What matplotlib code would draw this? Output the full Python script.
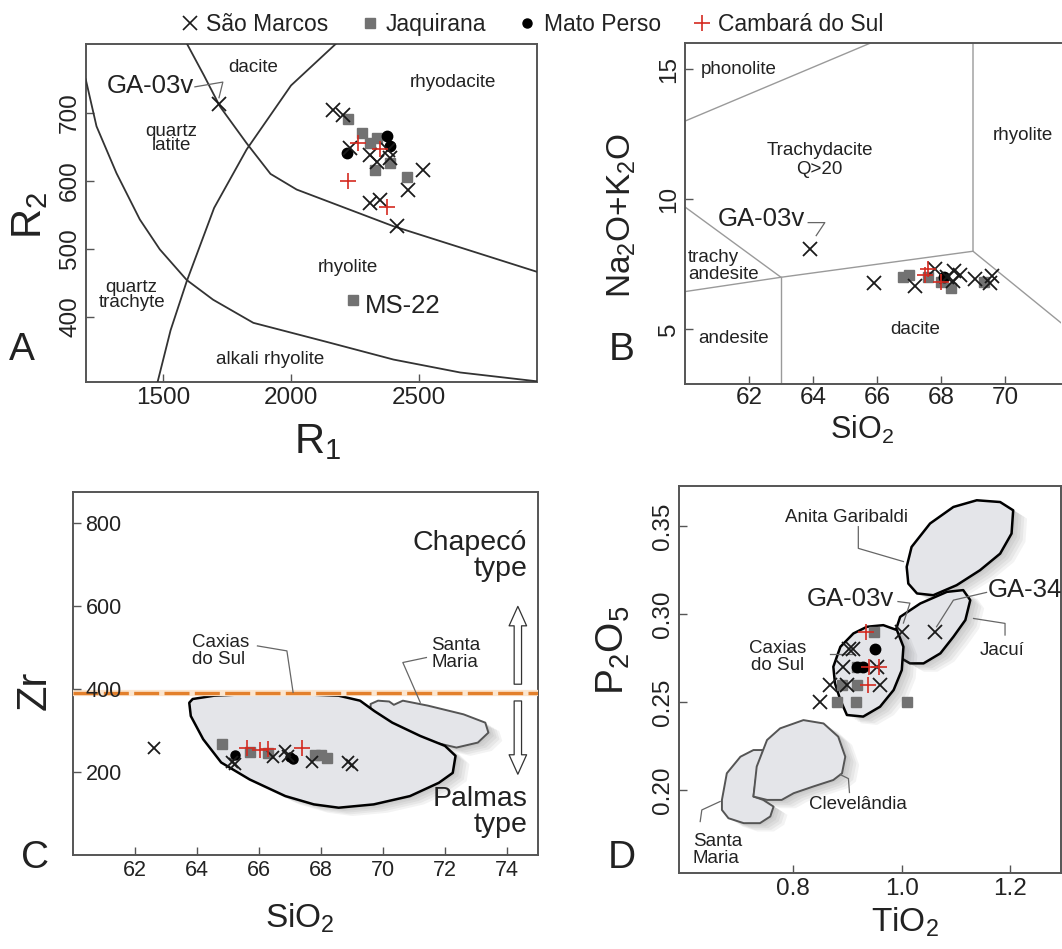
import matplotlib
matplotlib.use("Agg")
import matplotlib.pyplot as plt
import matplotlib.patheffects as pe
from matplotlib.lines import Line2D
from matplotlib.patches import Polygon

plt.rcParams["font.family"] = ["Liberation Sans", "DejaVu Sans"]
plt.rcParams["mathtext.default"] = "regular"

# ---------------- panel A: R1-R2 ----------------
sm_a_r1 = [2164, 2203, 2231, 2309, 2335, 2387, 2380, 2516, 2457, 2309, 2348, 2413, 1720]
sm_a_r2 = [704, 697, 648, 638, 628, 634, 645, 616, 587, 567, 572, 533, 713]
ja_a_r1 = [2224, 2276, 2335, 2309, 2328, 2387, 2452, 2241]
ja_a_r2 = [690, 670, 663, 656, 616, 626, 605, 424]
mp_a_r1 = [2217, 2374, 2387]
mp_a_r2 = [641, 665, 651]
cs_a_r1 = [2263, 2224, 2348, 2374]
cs_a_r2 = [656, 599, 646, 562]

a_line1 = ([1199, 1241, 1319, 1410, 1488, 1593, 1696, 1853, 2139, 2400, 2660, 2960],
           [749, 680, 611, 543, 499, 454, 425, 391, 363, 337, 318, 305])
a_line2 = ([1480, 1530, 1593, 1700, 1827, 2000, 2180],
           [305, 380, 452, 560, 646, 740, 803])
a_line3 = ([1593, 1660, 1723, 1827, 1920, 2022, 2400, 2960],
           [802, 755, 709, 655, 610, 587, 533, 466])

# ---------------- panel B: TAS ----------------
sm_b_si = [65.9, 67.2, 67.8, 68.4, 68.6, 69.06, 69.53, 69.6, 68.38, 68.2, 63.9]
sm_b_alk = [6.79, 6.67, 7.3, 7.24, 7.1, 6.93, 6.79, 7.05, 6.86, 7.0, 8.08]
ja_b_si = [66.8, 67.0, 67.6, 68.3, 68.0, 69.35]
ja_b_alk = [7.0, 7.1, 7.0, 6.6, 6.8, 6.8]
mp_b_si = [68.1]
mp_b_alk = [7.0]
cs_b_si = [67.5, 68.0, 67.6]
cs_b_alk = [7.1, 6.8, 7.3]

b_lines = [
    ([60, 65.8], [13.0, 16]),
    ([60, 63], [9.7, 7.0]),
    ([60, 63, 69], [6.45, 7.0, 8.0]),
    ([63, 63], [2.9, 7.0]),
    ([69, 69, 77], [16, 8, 0]),
]

# ---------------- panel C: Zr vs SiO2 ----------------
sm_c_si = [62.6, 65.12, 65.23, 66.46, 66.84, 66.95, 67.7, 68.88, 69.0]
sm_c_zr = [257, 224, 220, 236, 250, 238, 224, 224, 218]
ja_c_si = [64.8, 65.7, 66.3, 67.8, 68.0, 68.18]
ja_c_zr = [268, 248, 246, 242, 242, 235]
mp_c_si = [65.23, 67.0, 67.1]
mp_c_zr = [241, 236, 232]
cs_c_si = [65.62, 66.03, 66.3, 67.38]
cs_c_zr = [258, 254, 256, 258]

c_caxias = ([63.86, 64.55, 65.7, 66.85, 68.57, 69.26, 69.72, 70.3, 71.2, 72.0, 72.34, 72.25, 71.8,
             70.87, 69.7, 68.57, 67.77, 66.85, 65.7, 64.78, 64.2, 63.8, 63.75],
            [376, 384, 388, 389, 384, 372, 347, 319, 287, 263, 239, 198, 174,
             142, 122, 114, 122, 142, 182, 223, 279, 335, 367])
c_santa = ([69.6, 69.84, 70.2, 70.35, 70.64, 71.45, 72.6, 73.3, 73.4, 73.06, 72.37, 71.68, 70.87, 70.07, 69.6],
           [364, 372, 370, 362, 372, 360, 339, 319, 295, 271, 259, 271, 291, 315, 339])

# ---------------- panel D: P2O5 vs TiO2 ----------------
sm_d_ti = [0.902, 0.911, 0.891, 0.868, 0.899, 0.960, 0.850, 0.954, 1.000, 1.061]
sm_d_p = [0.28, 0.28, 0.27, 0.26, 0.26, 0.26, 0.25, 0.27, 0.29, 0.29]
ja_d_ti = [0.948, 0.917, 0.890, 0.917, 0.880, 0.915, 1.009]
ja_d_p = [0.29, 0.27, 0.26, 0.26, 0.25, 0.25, 0.25]
mp_d_ti = [0.951, 0.918, 0.928]
mp_d_p = [0.28, 0.27, 0.27]
cs_d_ti = [0.934, 0.940, 0.958, 0.937]
cs_d_p = [0.29, 0.27, 0.27, 0.26]

d_anita = ([1.009, 1.018, 1.052, 1.095, 1.138, 1.181, 1.205, 1.202, 1.181, 1.144, 1.101, 1.058, 1.028, 1.012],
           [0.3268, 0.3381, 0.3514, 0.3608, 0.3646, 0.3636, 0.3589, 0.3457, 0.3343, 0.3249, 0.3164, 0.3107, 0.3117, 0.3173])
d_jacui = ([0.985, 0.997, 1.034, 1.083, 1.113, 1.126, 1.117, 1.095, 1.071, 1.040, 1.015, 0.994],
           [0.2871, 0.2984, 0.3060, 0.3126, 0.3136, 0.3079, 0.2966, 0.2871, 0.2777, 0.2720, 0.2720, 0.2758])
d_caxias = ([0.874, 0.887, 0.911, 0.936, 0.966, 0.991, 1.003, 1.000, 0.985, 0.960, 0.929, 0.899, 0.887, 0.877],
            [0.2701, 0.2814, 0.2890, 0.2928, 0.2937, 0.2909, 0.2814, 0.2682, 0.2569, 0.2474, 0.2418, 0.2427, 0.2512, 0.2607])
d_cleve = ([0.727, 0.733, 0.752, 0.776, 0.819, 0.856, 0.883, 0.896, 0.890, 0.874, 0.837, 0.801, 0.779, 0.752],
           [0.1964, 0.2134, 0.2285, 0.2351, 0.2398, 0.2379, 0.2304, 0.2190, 0.2096, 0.2058, 0.2021, 0.1983, 0.1945, 0.1945])
d_santa = ([0.669, 0.678, 0.703, 0.727, 0.745, 0.733, 0.727, 0.745, 0.764, 0.758, 0.739, 0.709, 0.681, 0.669],
           [0.1945, 0.2096, 0.2190, 0.2228, 0.2228, 0.2096, 0.1964, 0.1945, 0.1907, 0.1851, 0.1813, 0.1813, 0.1841, 0.1888])

TXT = "#222222"
SPINE = "#555555"
GRAY_SQ = "#727272"
RED = "#d42a20"
RFS = 13.5   # region names
SFS = 18.5   # sample names


def fig_box(l, t, r, b):
    return [l / 1062, 1 - b / 949, (r - l) / 1062, (b - t) / 949]


def style_axes(ax, fs=17.5):
    for s in ax.spines.values():
        s.set_color(SPINE)
        s.set_linewidth(1.4)
    ax.tick_params(direction="in", length=6, width=1.0, color=SPINE, labelsize=fs, labelcolor=TXT)


def rotate_ylabels(ax):
    for lab in ax.get_yticklabels():
        lab.set_rotation(90)
        lab.set_va("center")


def scatter_groups(ax, sm, ja, mp, cs, xs=10, sq=7.5):
    ax.plot(ja[0], ja[1], ls="", marker="s", ms=sq, color=GRAY_SQ, mec=GRAY_SQ, zorder=5)
    ax.plot(mp[0], mp[1], ls="", marker="o", ms=sq, color="black", zorder=6)
    ax.plot(sm[0], sm[1], ls="", marker="x", ms=xs, mew=1.3, color="#1a1a1a", zorder=7)
    ax.plot(cs[0], cs[1], ls="", marker="+", ms=xs + 2, mew=1.2, color=RED, zorder=8)


def leader(ax, xs, ys):
    ax.plot(xs, ys, color="#666666", lw=0.9, zorder=4)


def field(ax, pts, ec="black", lw=1.8):
    shadows = [pe.SimplePatchShadow(offset=(o, -o * 0.6), shadow_rgbFace="#555555", alpha=0.07)
               for o in (2, 4, 6, 8, 10)]
    poly = Polygon(list(zip(pts[0], pts[1])), closed=True, fc="#e4e5e9", ec=ec, lw=lw, joinstyle="round",
                   zorder=2, path_effects=shadows + [pe.Normal()])
    ax.add_patch(poly)


fig = plt.figure(figsize=(10.62, 9.49), dpi=100)

# ---------- A ----------
axA = fig.add_axes(fig_box(86, 44, 537, 382))
style_axes(axA)
for ln in (a_line1, a_line2, a_line3):
    axA.plot(ln[0], ln[1], color="#333333", lw=1.3, zorder=3)
scatter_groups(axA, (sm_a_r1, sm_a_r2), (ja_a_r1, ja_a_r2), (mp_a_r1, mp_a_r2), (cs_a_r1, cs_a_r2))
axA.set_xlim(1200, 2960)
axA.set_ylim(304, 801)
axA.set_xticks([1500, 2000, 2500])
axA.set_yticks([400, 500, 600, 700])
rotate_ylabels(axA)
axA.text(1852, 766, "dacite", fontsize=RFS, ha="center", va="center", color=TXT)
axA.text(2633, 744, "rhyodacite", fontsize=RFS, ha="center", va="center", color=TXT)
axA.text(1534, 662, "quartz\nlatite", fontsize=RFS, ha="center", va="center", color=TXT, linespacing=0.8)
axA.text(1378, 432, "quartz\ntrachyte", fontsize=RFS, ha="center", va="center", color=TXT, linespacing=0.8)
axA.text(2223, 473, "rhyolite", fontsize=RFS, ha="center", va="center", color=TXT)
axA.text(1918, 337, "alkali rhyolite", fontsize=RFS, ha="center", va="center", color=TXT)
axA.text(2290, 416, "MS-22", fontsize=SFS, ha="left", va="center", color=TXT)
axA.text(1450, 739, "GA-03v", fontsize=SFS, ha="center", va="center", color=TXT)
leader(axA, [1625, 1734, 1719], [738, 745, 722])

# ---------- B ----------
axB = fig.add_axes(fig_box(685, 43, 1061, 384))
style_axes(axB)
axB.tick_params(axis="x", pad=2)
axB.spines["right"].set_visible(False)
for xs, ys in b_lines:
    axB.plot(xs, ys, color="#9a9a9a", lw=1.0, zorder=2)
scatter_groups(axB, (sm_b_si, sm_b_alk), (ja_b_si, ja_b_alk), (mp_b_si, mp_b_alk), (cs_b_si, cs_b_alk))
axB.set_xlim(60, 71.75)
axB.set_ylim(2.9, 16)
axB.set_xticks([62, 64, 66, 68, 70])
axB.set_yticks([5, 10, 15])
rotate_ylabels(axB)
axB.text(60.5, 15.0, "phonolite", fontsize=RFS, ha="left", va="center", color=TXT)
axB.text(64.2, 11.5, "Trachydacite\nQ>20", fontsize=RFS, ha="center", va="center", color=TXT, linespacing=1.1)
axB.text(70.56, 12.43, "rhyolite", fontsize=RFS, ha="center", va="center", color=TXT)
axB.text(60.1, 7.45, "trachy\nandesite", fontsize=RFS, ha="left", va="center", color=TXT, linespacing=1.0)
axB.text(60.4, 4.65, "andesite", fontsize=RFS, ha="left", va="center", color=TXT)
axB.text(67.2, 5.0, "dacite", fontsize=RFS, ha="center", va="center", color=TXT)
axB.text(62.4, 9.25, "GA-03v", fontsize=SFS, ha="center", va="center", color=TXT)
leader(axB, [63.85, 64.37, 64.1], [9.1, 9.1, 8.6])

# ---------- C ----------
axC = fig.add_axes(fig_box(73, 492, 538, 855))
style_axes(axC, fs=15.5)
field(axC, c_santa, ec="#555555", lw=1.4)
field(axC, c_caxias, ec="black", lw=1.8)
axC.axhline(390, color="#fbe6d0", lw=4.5, zorder=3)
axC.axhline(390, color="#e3802c", lw=2.4, dashes=(7.5, 1.6), zorder=3)
scatter_groups(axC, (sm_c_si, sm_c_zr), (ja_c_si, ja_c_zr), (mp_c_si, mp_c_zr), (cs_c_si, cs_c_zr), xs=9, sq=6.5)
axC.set_xlim(60, 75)
axC.set_ylim(0, 875)
axC.set_xticks([62, 64, 66, 68, 70, 72, 74])
axC.set_yticks([200, 400, 600, 800])
axC.yaxis.set_zorder(4)
axC.tick_params(axis="y", pad=-9)
for lab in axC.get_yticklabels():
    lab.set_ha("left")
arrow_style = "simple,head_length=1.0,head_width=0.9,tail_width=0.38"
axC.annotate("", xy=(74.35, 606), xytext=(74.35, 405),
             arrowprops=dict(arrowstyle=arrow_style, mutation_scale=14, fc="white", ec="#333333", lw=0.9),
             zorder=6)
axC.annotate("", xy=(74.35, 188), xytext=(74.35, 378),
             arrowprops=dict(arrowstyle=arrow_style, mutation_scale=14, fc="white", ec="#333333", lw=0.9),
             zorder=6)
axC.text(74.65, 720, "Chapecó\ntype", fontsize=20.5, ha="right", va="center", color=TXT, linespacing=1.0)
axC.text(74.65, 103, "Palmas\ntype", fontsize=20.5, ha="right", va="center", color=TXT, linespacing=1.0)
axC.text(63.84, 492, "Caxias\ndo Sul", fontsize=RFS, ha="left", va="center", color=TXT, linespacing=1.0)
leader(axC, [65.95, 66.9, 67.1], [504, 492, 392])
axC.text(71.56, 484, "Santa\nMaria", fontsize=RFS, ha="left", va="center", color=TXT, linespacing=1.0)
leader(axC, [71.4, 70.64, 71.2], [476, 464, 368])

# ---------- D ----------
axD = fig.add_axes(fig_box(679, 486, 1061, 873))
style_axes(axD)
field(axD, d_santa, ec="#555555", lw=1.4)
field(axD, d_cleve, ec="#555555", lw=1.4)
field(axD, d_anita)
field(axD, d_jacui)
field(axD, d_caxias)
scatter_groups(axD, (sm_d_ti, sm_d_p), (ja_d_ti, ja_d_p), (mp_d_ti, mp_d_p), (cs_d_ti, cs_d_p))
axD.set_xlim(0.59, 1.293)
axD.set_ylim(0.153, 0.3727)
axD.set_xticks([0.8, 1.0, 1.2])
axD.set_xticklabels(["0.8", "1.0", "1.2"])
axD.set_yticks([0.20, 0.25, 0.30, 0.35])
axD.set_yticklabels(["0.20", "0.25", "0.30", "0.35"])
rotate_ylabels(axD)
axD.text(0.899, 0.3551, "Anita Garibaldi", fontsize=RFS, ha="center", va="center", color=TXT)
leader(axD, [0.920, 0.920, 1.003], [0.3496, 0.3373, 0.3298])
axD.text(0.905, 0.3088, "GA-03v", fontsize=SFS, ha="center", va="center", color=TXT)
leader(axD, [0.993, 1.015, 1.003], [0.3071, 0.3062, 0.2949])
axD.text(1.226, 0.3135, "GA-34", fontsize=SFS, ha="center", va="center", color=TXT)
leader(axD, [1.156, 1.095, 1.064], [0.3123, 0.3079, 0.2928])
axD.text(1.184, 0.2795, "Jacuí", fontsize=RFS, ha="center", va="center", color=TXT)
leader(axD, [1.132, 1.190, 1.190], [0.2975, 0.2947, 0.2881])
axD.text(0.771, 0.2757, "Caxias\ndo Sul", fontsize=RFS, ha="center", va="center", color=TXT, linespacing=1.0)
leader(axD, [0.867, 0.911], [0.2776, 0.2776])
axD.text(0.920, 0.1917, "Clevelândia", fontsize=RFS, ha="center", va="center", color=TXT)
leader(axD, [0.8865, 0.9018, 0.9037], [0.2089, 0.2066, 0.1987])
axD.text(0.6155, 0.1662, "Santa\nMaria", fontsize=RFS, ha="left", va="center", color=TXT, linespacing=1.0)
leader(axD, [0.6657, 0.6320, 0.6290], [0.1936, 0.1888, 0.1822])

# ---------- axis titles and panel letters ----------
def ftext(x, y, s, **kw):
    fig.text(x / 1062, 1 - y / 949, s, ha="center", va="center", color=TXT, **kw)

ftext(30, 215, "R$_2$", fontsize=30, rotation=90)
ftext(318, 442, "R$_1$", fontsize=30)
ftext(622, 215, "Na$_2$O+K$_2$O", fontsize=24, rotation=90)
ftext(862, 430, "SiO$_2$", fontsize=22)
ftext(35, 690, "Zr", fontsize=30, rotation=90)
ftext(300, 918, "SiO$_2$", fontsize=24)
ftext(613, 650, "P$_2$O$_5$", fontsize=28, rotation=90)
ftext(905, 922, "TiO$_2$", fontsize=24)
ftext(22, 350, "A", fontsize=28)
ftext(622, 350, "B", fontsize=28)
ftext(35, 858, "C", fontsize=28)
ftext(622, 858, "D", fontsize=28)

handles = [
    Line2D([], [], ls="", marker="x", ms=10, mew=1.2, color="#1a1a1a", label="São Marcos"),
    Line2D([], [], ls="", marker="s", ms=6.5, color=GRAY_SQ, label="Jaquirana"),
    Line2D([], [], ls="", marker="o", ms=6.5, color="black", label="Mato Perso"),
    Line2D([], [], ls="", marker="+", ms=12, mew=1.2, color=RED, label="Cambará do Sul"),
]
fig.legend(handles=handles, loc="upper center", bbox_to_anchor=(0.5, 1.008), ncol=4, frameon=False,
           fontsize=16.5, handletextpad=0.2, columnspacing=1.3, handlelength=1.0, labelcolor=TXT)

fig.savefig("out.png", dpi=100)
